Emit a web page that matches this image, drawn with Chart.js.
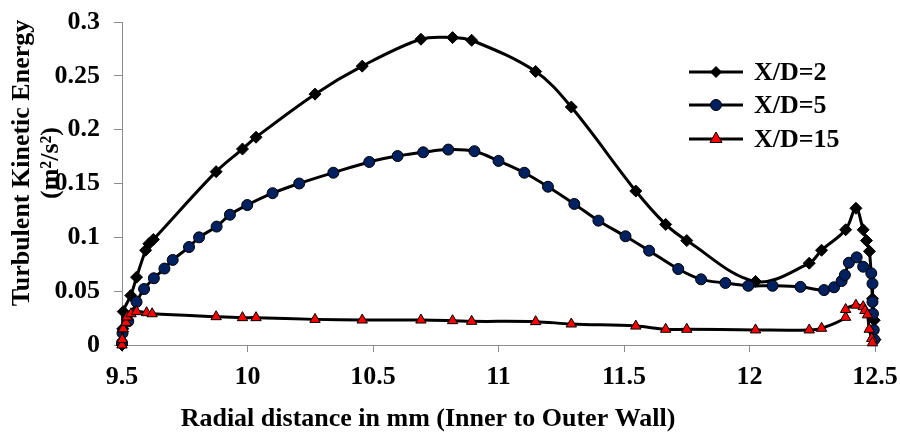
<!DOCTYPE html>
<html>
<head>
<meta charset="utf-8">
<script src="https://cdn.jsdelivr.net/npm/chart.js"></script>
<style>
  body { margin: 0; background: #fff; }
</style>
</head>
<body>
<canvas id="myChart" width="900" height="434"></canvas>
<script>
// Turbulent kinetic energy across the annulus

const xd2X = [9.5, 9.503, 9.505, 9.535, 9.558, 9.594, 9.607, 9.625, 9.875, 9.98, 10.034, 10.269, 10.457, 10.691, 10.817, 10.893, 11.148, 11.29, 11.547, 11.666, 11.75, 12.024, 12.238, 12.287, 12.383, 12.424, 12.453, 12.466, 12.478, 12.49, 12.497, 12.5];
const xd2Y = [0.0, 0.015, 0.031, 0.046, 0.063, 0.088, 0.094, 0.098, 0.161, 0.182, 0.193, 0.233, 0.259, 0.284, 0.2855, 0.283, 0.254, 0.221, 0.143, 0.112, 0.097, 0.059, 0.076, 0.088, 0.107, 0.127, 0.107, 0.097, 0.087, 0.043, 0.023, 0.005];

const xd5X = [9.5, 9.502, 9.525, 9.558, 9.588, 9.627, 9.669, 9.702, 9.767, 9.807, 9.877, 9.93, 9.999, 10.1, 10.206, 10.342, 10.485, 10.598, 10.7, 10.8, 10.904, 11.0, 11.103, 11.197, 11.302, 11.398, 11.506, 11.6, 11.716, 11.807, 11.904, 11.995, 12.092, 12.203, 12.297, 12.337, 12.367, 12.38, 12.396, 12.427, 12.453, 12.485, 12.49, 12.49, 12.492, 12.495, 12.497];
const xd5Y = [0.002, 0.011, 0.022, 0.04, 0.052, 0.062, 0.071, 0.079, 0.091, 0.1, 0.11, 0.121, 0.13, 0.141, 0.15, 0.16, 0.17, 0.1755, 0.179, 0.1815, 0.18, 0.171, 0.16, 0.147, 0.131, 0.1155, 0.101, 0.0876, 0.0706, 0.061, 0.0576, 0.055, 0.055, 0.054, 0.051, 0.0536, 0.0594, 0.065, 0.0764, 0.0814, 0.0727, 0.0666, 0.057, 0.04, 0.029, 0.014, 0.005];

const xd15X = [9.5, 9.501, 9.505, 9.516, 9.52, 9.536, 9.558, 9.598, 9.62, 9.875, 9.98, 10.034, 10.269, 10.457, 10.691, 10.817, 10.893, 11.148, 11.29, 11.547, 11.666, 11.75, 12.024, 12.238, 12.287, 12.383, 12.383, 12.424, 12.453, 12.46, 12.47, 12.477, 12.487, 12.49];
const xd15Y = [0.0, 0.005, 0.015, 0.021, 0.026, 0.029, 0.031, 0.03, 0.029, 0.0263, 0.0254, 0.0254, 0.0238, 0.0232, 0.0232, 0.0226, 0.022, 0.0217, 0.0195, 0.0176, 0.0146, 0.0146, 0.014, 0.014, 0.0155, 0.0257, 0.033, 0.037, 0.0356, 0.032, 0.028, 0.0146, 0.006, 0.002];

const seriesNames = ["X/D=2", "X/D=5", "X/D=15"];
const xTicks = [9.5, 10, 10.5, 11, 11.5, 12, 12.5];
const yTicks = [0, 0.05, 0.1, 0.15, 0.2, 0.25, 0.3];
const xTitle = "Radial distance in mm (Inner to Outer Wall)";
const yTitle = ["Turbulent Kinetic Energy", "(m²/s²)"];

const FONT = '"Liberation Serif", "Times New Roman", serif';
const AXIS_GRAY = "#8c8c8c";

function toPoints(xs, ys) {
  return xs.map((x, i) => ({ x: x, y: ys[i] }));
}

// legend marker, drawn by hand
function drawMarker(ctx, style, x, y, r, fill) {
  ctx.beginPath();
  if (style === "rectRot") {
    ctx.moveTo(x, y - r);
    ctx.lineTo(x + r, y);
    ctx.lineTo(x, y + r);
    ctx.lineTo(x - r, y);
  } else if (style === "triangle") {
    ctx.moveTo(x, y - r);
    ctx.lineTo(x + r * 0.87, y + r * 0.5);
    ctx.lineTo(x - r * 0.87, y + r * 0.5);
  } else {
    ctx.arc(x, y, r, 0, Math.PI * 2);
  }
  ctx.closePath();
  ctx.fillStyle = fill;
  ctx.fill();
  ctx.lineWidth = 1;
  ctx.strokeStyle = "#000";
  ctx.stroke();
}

const titlesAndLegend = {
  id: "titlesAndLegend",
  afterDraw(chart) {
    const ctx = chart.ctx;
    ctx.save();
    ctx.fillStyle = "#000";
    ctx.font = "bold 26px " + FONT;
    ctx.textAlign = "center";
    ctx.textBaseline = "middle";

    // x axis title
    ctx.fillText(xTitle, 428, 419);

    // y axis title, two lines
    [22, 51].forEach((x, i) => {
      ctx.save();
      ctx.translate(x, 163);
      ctx.rotate(-Math.PI / 2);
      ctx.fillText(yTitle[i], 0, 0);
      ctx.restore();
    });

    // legend inside the plot
    const rows = [72, 105, 139];
    ctx.textAlign = "left";
    chart.data.datasets.forEach((ds, i) => {
      const y = rows[i];
      ctx.beginPath();
      ctx.moveTo(689, y);
      ctx.lineTo(743, y);
      ctx.lineWidth = 3;
      ctx.strokeStyle = "#000";
      ctx.stroke();
      drawMarker(ctx, ds.pointStyle, 716, y, ds.pointStyle === "triangle" ? 7 : 5.5, ds.pointBackgroundColor);
      ctx.fillStyle = "#000";
      ctx.fillText(ds.label, 754, y + 1);
    });
    ctx.restore();
  },
};

const ctx = document.getElementById("myChart");

new Chart(ctx, {
  type: "line",
  data: {
    datasets: [
      {
        label: seriesNames[0],
        data: toPoints(xd2X, xd2Y),
        borderColor: "#000",
        borderWidth: 3,
        pointStyle: "rectRot",
        pointRadius: 6,
        pointBackgroundColor: "#000",
        pointBorderColor: "#000",
        pointBorderWidth: 1,
        tension: 0.35,
        clip: false,
        order: 3,
      },
      {
        label: seriesNames[1],
        data: toPoints(xd5X, xd5Y),
        borderColor: "#000",
        borderWidth: 3,
        pointStyle: "circle",
        pointRadius: 5.5,
        pointBackgroundColor: "#002060",
        pointBorderColor: "#000",
        pointBorderWidth: 1,
        tension: 0.35,
        clip: false,
        order: 2,
      },
      {
        label: seriesNames[2],
        data: toPoints(xd15X, xd15Y),
        borderColor: "#000",
        borderWidth: 3,
        pointStyle: "triangle",
        pointRadius: 6,
        pointBackgroundColor: "#ff0000",
        pointBorderColor: "#000",
        pointBorderWidth: 1,
        tension: 0.35,
        clip: false,
        order: 1,
      },
    ],
  },
  options: {
    responsive: false,
    animation: false,
    layout: {
      padding: { top: 22, right: 25, bottom: 0, left: 0 },
    },
    plugins: {
      legend: { display: false },
      tooltip: { enabled: false },
    },
    scales: {
      x: {
        type: "linear",
        min: 9.5,
        max: 12.5,
        afterBuildTicks: (scale) => {
          scale.ticks = xTicks.map((v) => ({ value: v }));
        },
        afterFit: (scale) => {
          scale.height = 89;
          scale.paddingLeft = 0; // let layout padding decide
          scale.paddingRight = 0;
        },
        ticks: {
          color: "#000",
          padding: 10,
          maxRotation: 0,
          font: { family: FONT, size: 26, weight: "bold" },
          callback: (value) => String(value),
        },
        grid: {
          drawOnChartArea: false,
          tickLength: 7,
          color: AXIS_GRAY,
        },
        border: { color: AXIS_GRAY, width: 1 },
      },
      y: {
        min: 0,
        max: 0.3,
        afterBuildTicks: (scale) => {
          scale.ticks = yTicks.map((v) => ({ value: v }));
        },
        afterFit: (scale) => {
          scale.width = 122;
          scale.paddingTop = 0;
          scale.paddingBottom = 0;
        },
        ticks: {
          color: "#000",
          padding: 14,
          font: { family: FONT, size: 26, weight: "bold" },
          callback: (value) => String(value),
        },
        grid: {
          drawOnChartArea: false,
          tickLength: 8,
          color: AXIS_GRAY,
        },
        border: { color: AXIS_GRAY, width: 1 },
      },
    },
  },
  plugins: [titlesAndLegend],
});
</script>
</body>
</html>
